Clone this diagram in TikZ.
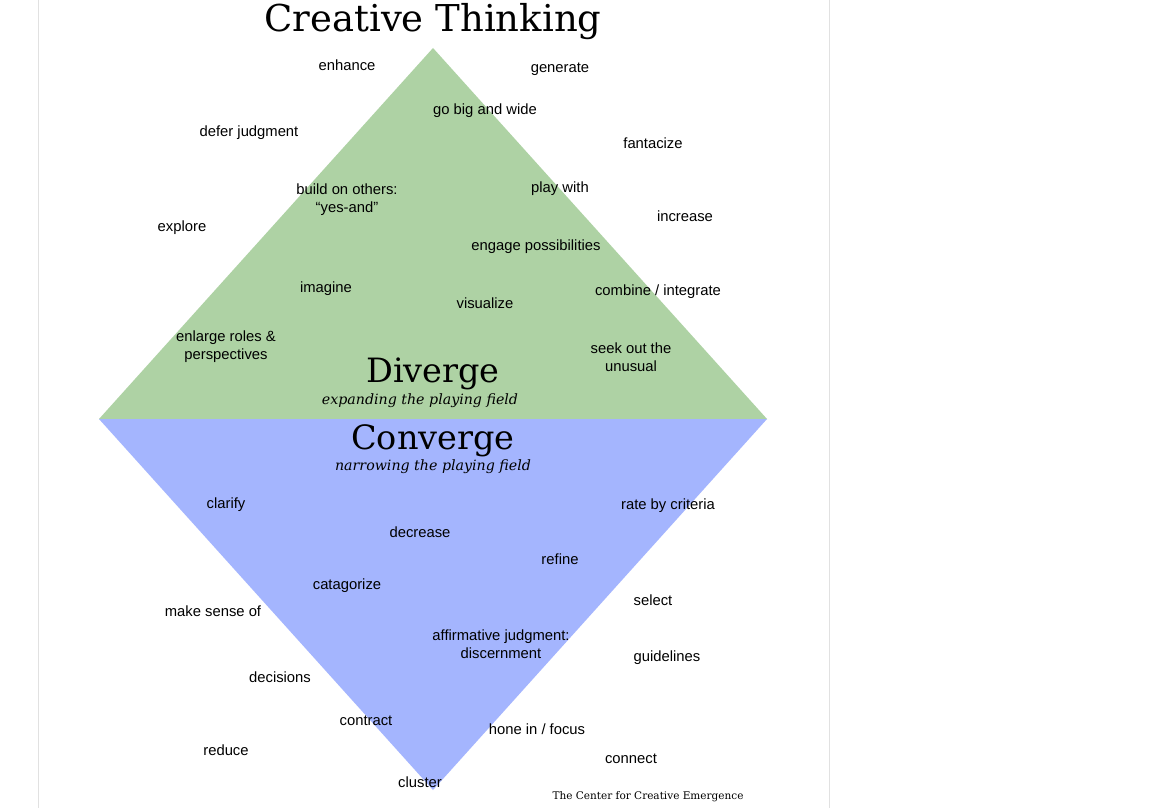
\documentclass[tikz,border=0pt]{standalone}
\usepackage{fontspec}
\setmainfont{Liberation Sans}
\newfontfamily\slab{DejaVu Serif}
\definecolor{divgreen}{RGB}{174,210,164}
\definecolor{convblue}{RGB}{164,181,254}
\definecolor{pageline}{RGB}{225,225,225}
\begin{document}
\begin{tikzpicture}[x=1pt,y=-1pt,
  word/.style={inner sep=0pt,yshift=-2pt,font=\fontsize{14.8}{18}\selectfont,align=center},
  head/.style={inner sep=0pt,font=\slab\fontsize{33.5}{36}\selectfont},
  sub/.style={inner sep=0pt,font=\slab\itshape\fontsize{14.2}{16}\selectfont}]
\useasboundingbox (0,0) rectangle (1152,808);
\fill[white] (0,0) rectangle (1152,808);
\draw[pageline,line width=1pt] (38.5,0) -- (38.5,808);
\draw[pageline,line width=1pt] (829.5,0) -- (829.5,808);
\coordinate (L) at (99,419);
\coordinate (R) at (767,419);
\coordinate (T) at (433,48);
\coordinate (B) at (433,790);
\fill[divgreen] (L) -- (T) -- (R) -- cycle;
\fill[convblue] (L) -- (R) -- (B) -- cycle;

\node[inner sep=0pt,font=\slab\fontsize{37}{40}\selectfont] (title) at (433,22) {Creative Thinking};

\node[word] (w1) at (347,63) {enhance};
\node[word] (w2) at (560,67) {generate};
\node[word] (w3) at (485,109) {go big and wide};
\node[word] (w4) at (249,131) {defer judgment};
\node[word] (w5) at (653,141) {fantacize};
\node[word] (w6) at (347,198) {build on others:\\“yes-and”};
\node[word] (w7) at (560,187) {play with};
\node[word] (w8) at (685,214) {increase};
\node[word] (w9) at (182,226) {explore};
\node[word] (w10) at (536,245) {engage possibilities};
\node[word] (w11) at (326,287) {imagine};
\node[word] (w12) at (658,290) {combine / integrate};
\node[word] (w13) at (485,301) {visualize};
\node[word] (w14) at (226,345) {enlarge roles \&\\perspectives};
\node[word] (w15) at (631,355) {seek out the\\unusual};

\node[head] (div) at (433,374) {Diverge};
\node[sub] (divs) at (420,401) {expanding the playing field};
\node[head] (conv) at (433,441) {Converge};
\node[sub] (convs) at (433,467) {narrowing the playing field};

\node[word] (c1) at (226,503) {clarify};
\node[word] (c2) at (668,504) {rate by criteria};
\node[word] (c3) at (420,530) {decrease};
\node[word] (c4) at (560,557) {refine};
\node[word] (c5) at (347,584) {catagorize};
\node[word] (c6) at (653,598) {select};
\node[word] (c7) at (213,609) {make sense of};
\node[word] (c8) at (501,642) {affirmative judgment:\\discernment};
\node[word] (c9) at (667,656) {guidelines};
\node[word] (c10) at (280,675) {decisions};
\node[word] (c11) at (366,719) {contract};
\node[word] (c12) at (537,727) {hone in / focus};
\node[word] (c13) at (226,748) {reduce};
\node[word] (c14) at (631,757) {connect};
\node[word] (c15) at (420,780) {cluster};

\node[inner sep=0pt,font=\slab\fontsize{10.5}{12}\selectfont] (credit) at (648,797) {The Center for Creative Emergence};
\end{tikzpicture}
\end{document}
